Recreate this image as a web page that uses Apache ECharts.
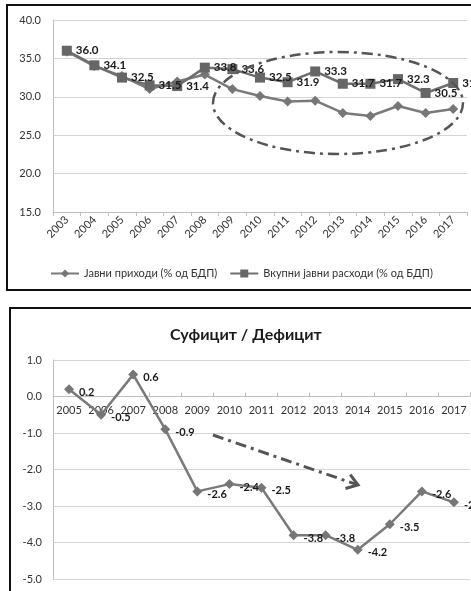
<!DOCTYPE html>
<html>
<head>
<meta charset="utf-8">
<script src="https://cdn.jsdelivr.net/npm/echarts@6/dist/echarts.min.js"></script>
<style>
html,body{margin:0;padding:0;background:#fff;}
#c{width:471px;height:591px;}
</style>
</head>
<body>
<div id="c"></div>
<script>
const years1 = ['2003','2004','2005','2006','2007','2008','2009','2010','2011','2012','2013','2014','2015','2016','2017'];
const revenue = [35.9, 34.0, 32.7, 31.0, 32.0, 32.9, 31.0, 30.1, 29.4, 29.5, 27.9, 27.5, 28.8, 27.9, 28.4];
const expenditure = [36.0, 34.1, 32.5, 31.5, 31.4, 33.8, 33.6, 32.5, 31.9, 33.3, 31.7, 31.7, 32.3, 30.5, 31.8];
const yTicks1 = { min: 15, max: 40, step: 5 };

const years2 = ['2005','2006','2007','2008','2009','2010','2011','2012','2013','2014','2015','2016','2017'];
const balance = [0.2, -0.5, 0.6, -0.9, -2.6, -2.4, -2.5, -3.8, -3.8, -4.2, -3.5, -2.6, -2.9];
const yTicks2 = { min: -5, max: 1, step: 1 };

const seriesNames = ['Јавни приходи (% од БДП)', 'Вкупни јавни расходи (% од БДП)'];
const title2 = 'Суфицит / Дефицит';

const FONT = 'Lato, "Open Sans", sans-serif';
const chart = echarts.init(document.getElementById('c'), null, {renderer: 'canvas'});

const grid2Height = 219;
// place category axis of the lower chart at value 0 (scale-derived offset)
const zeroOffset = -((0 - yTicks2.min) / (yTicks2.max - yTicks2.min)) * grid2Height;

const dashDot = [11, 5, 3, 5];
// arrow geometry (annotation)
const aStart = [213, 435], aTip = [358, 485];
const dx = aTip[0] - aStart[0], dy = aTip[1] - aStart[1];
const len = Math.sqrt(dx*dx + dy*dy), ux = dx/len, uy = dy/len;
function rot(x, y, a){ return [x*Math.cos(a) - y*Math.sin(a), x*Math.sin(a) + y*Math.cos(a)]; }
const h1 = rot(-ux, -uy, 0.6), h2 = rot(-ux, -uy, -0.6);
const headLen = 13;

chart.setOption({
  animation: false,
  backgroundColor: '#fff',
  textStyle: { fontFamily: FONT },
  title: {
    text: title2,
    left: 165, top: 322,
    textStyle: { fontFamily: FONT, fontSize: 16, fontWeight: 'bold', color: '#1a1a1a' }
  },
  legend: {
    left: 45, top: 263,
    itemWidth: 28, itemHeight: 10, itemGap: 12,
    data: seriesNames,
    textStyle: { fontFamily: FONT, fontSize: 11, color: '#333' }
  },
  grid: [
    { left: 53, top: 20, right: 4, height: 192, containLabel: false },
    { left: 53, top: 360, right: 1, height: grid2Height, containLabel: false }
  ],
  xAxis: [
    {
      type: 'category', gridIndex: 0, data: years1, boundaryGap: true,
      axisLine: { lineStyle: { color: '#bfbfbf', width: 1 } },
      axisTick: { show: true, length: 4, lineStyle: { color: '#bfbfbf' } },
      axisLabel: { rotate: 45, fontSize: 11, color: '#333', margin: 6, fontFamily: FONT, interval: 0 }
    },
    {
      type: 'category', gridIndex: 1, data: years2, boundaryGap: true,
      position: 'bottom', offset: zeroOffset,
      axisLine: { onZero: false, lineStyle: { color: '#bfbfbf', width: 1 } },
      axisTick: { show: true, length: 4, inside: true, lineStyle: { color: '#bfbfbf' } },
      axisLabel: { fontSize: 11, color: '#333', margin: 8, fontFamily: FONT, interval: 0, hideOverlap: false }
    }
  ],
  yAxis: [
    {
      type: 'value', gridIndex: 0, min: yTicks1.min, max: yTicks1.max, interval: yTicks1.step,
      axisLine: { show: true, lineStyle: { color: '#bfbfbf' } },
      axisTick: { show: false },
      splitLine: { lineStyle: { color: '#d4d4d4', width: 1 } },
      axisLabel: { fontSize: 11, color: '#333', margin: 12, fontFamily: FONT, formatter: v => v.toFixed(1) }
    },
    {
      type: 'value', gridIndex: 1, min: yTicks2.min, max: yTicks2.max, interval: yTicks2.step,
      axisLine: { show: true, lineStyle: { color: '#bfbfbf' } },
      axisTick: { show: false },
      splitLine: { lineStyle: { color: '#d4d4d4', width: 1 } },
      axisLabel: { fontSize: 11, color: '#333', margin: 11, fontFamily: FONT, formatter: v => v.toFixed(1) }
    }
  ],
  series: [
    {
      name: seriesNames[0], type: 'line', xAxisIndex: 0, yAxisIndex: 0,
      data: revenue, symbol: 'diamond', symbolSize: 10,
      lineStyle: { color: '#7a7a7a', width: 2.5 },
      itemStyle: { color: '#767676' },
      label: { show: false }, z: 2
    },
    {
      name: seriesNames[1], type: 'line', xAxisIndex: 0, yAxisIndex: 0,
      data: expenditure, symbol: 'rect', symbolSize: 10,
      lineStyle: { color: '#6e6e6e', width: 2.5 },
      itemStyle: { color: '#666' },
      label: {
        show: true, position: 'right', distance: 4,
        fontSize: 11.5, fontWeight: 'bold', color: '#1a1a1a', fontFamily: FONT,
        formatter: p => p.value.toFixed(1)
      }, z: 3
    },
    {
      name: 'balance', type: 'line', xAxisIndex: 1, yAxisIndex: 1,
      data: balance, symbol: 'diamond', symbolSize: 10,
      lineStyle: { color: '#7a7a7a', width: 2.5 },
      itemStyle: { color: '#767676' },
      label: {
        show: true, position: 'right', distance: 5, offset: [0, 3],
        fontSize: 11, fontWeight: 'bold', color: '#1a1a1a', fontFamily: FONT,
        formatter: p => p.value.toFixed(1)
      }, z: 3
    }
  ],
  graphic: [
    { type: 'rect', shape: { x: 7, y: 5, width: 480, height: 285 }, style: { fill: 'none', stroke: '#111', lineWidth: 2 }, z: 100 },
    { type: 'rect', shape: { x: 10, y: 308, width: 480, height: 300 }, style: { fill: 'none', stroke: '#111', lineWidth: 2 }, z: 100 },
    { type: 'ellipse', shape: { cx: 338, cy: 103, rx: 125, ry: 51 },
      style: { fill: 'none', stroke: '#555', lineWidth: 2.5, lineDash: dashDot }, z: 100 },
    { type: 'line', shape: { x1: aStart[0], y1: aStart[1], x2: aTip[0] - ux*2, y2: aTip[1] - uy*2 },
      style: { stroke: '#555', lineWidth: 3, lineDash: dashDot }, z: 100 },
    { type: 'polyline', shape: { points: [
        [aTip[0] + h1[0]*headLen, aTip[1] + h1[1]*headLen], aTip,
        [aTip[0] + h2[0]*headLen, aTip[1] + h2[1]*headLen] ] },
      style: { fill: 'none', stroke: '#555', lineWidth: 3 }, z: 100 }
  ]
});
</script>
</body>
</html>
